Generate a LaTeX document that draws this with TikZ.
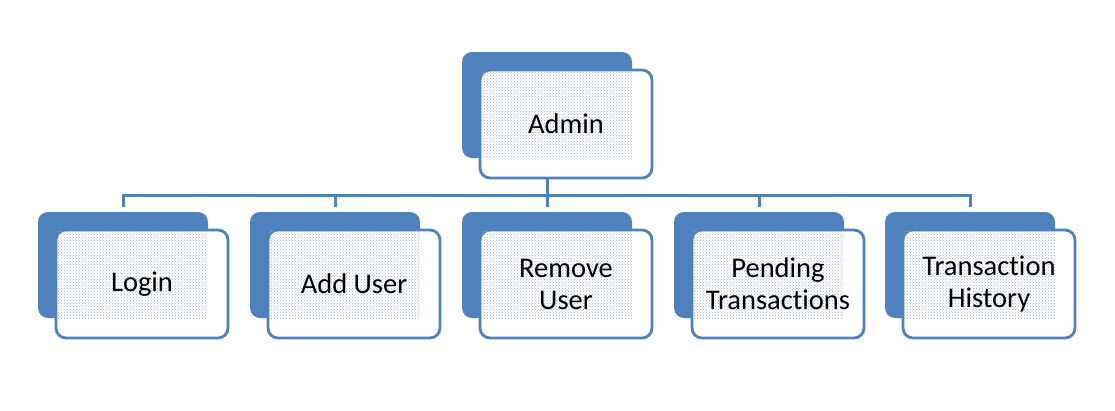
\documentclass[tikz,border=0pt]{standalone}
\usepackage{fontspec}
\setmainfont{Carlito}[RawFeature={-liga;-clig;-dlig;-calt}]
\usetikzlibrary{patterns}
\definecolor{boxblue}{HTML}{4F81BD}
\definecolor{dotgray}{HTML}{A3B0C4}
\tikzset{
 backbox/.style={draw=none, fill=boxblue, rounded corners=10pt, minimum width=170pt, minimum height=106pt},
 frontbox/.style={draw=boxblue, line width=2.8pt, fill=white, rounded corners=10pt, minimum width=172pt, minimum height=108pt},
 dotfill/.style={pattern=crosshatch dots, pattern color=dotgray},
 modtext/.style={font=\fontsize{28.5}{32}\selectfont, align=center, text=black},
 link/.style={draw=boxblue, line width=3pt}
}
\begin{document}
\begin{tikzpicture}[x=1pt,y=-1pt]
\useasboundingbox (0,0) rectangle (1115,410);
\node[backbox] (admin-b) at (547,105) {};
\node[frontbox] (admin-f) at (566,124) {};
\fill[dotfill] ([shift={(3pt,-3pt)}]admin-f.north west) rectangle (admin-b.south east);
\node[modtext] (admin) at (admin-f) {Admin};
\coordinate (bus) at (547,195);
\draw[link] (bus |- admin-f.south) -- (bus);
\foreach \n/\x/\t in {login/123/Login, adduser/335/Add User, removeuser/547/{Remove\\User},
  pending/759/{Pending\\Transactions}, history/970/{Transaction\\History}} {
 \node[backbox] (\n-b) at (\x,265) {};
 \node[frontbox] (\n-f) at (\x+19,284) {};
 \fill[dotfill] ([shift={(3pt,-3pt)}]\n-f.north west) rectangle (\n-b.south east);
 \node[modtext] (\n) at (\n-f) {\t};
 \draw[link] (bus) -| ([yshift=5pt]\n-b.north);
}
\end{tikzpicture}
\end{document}
